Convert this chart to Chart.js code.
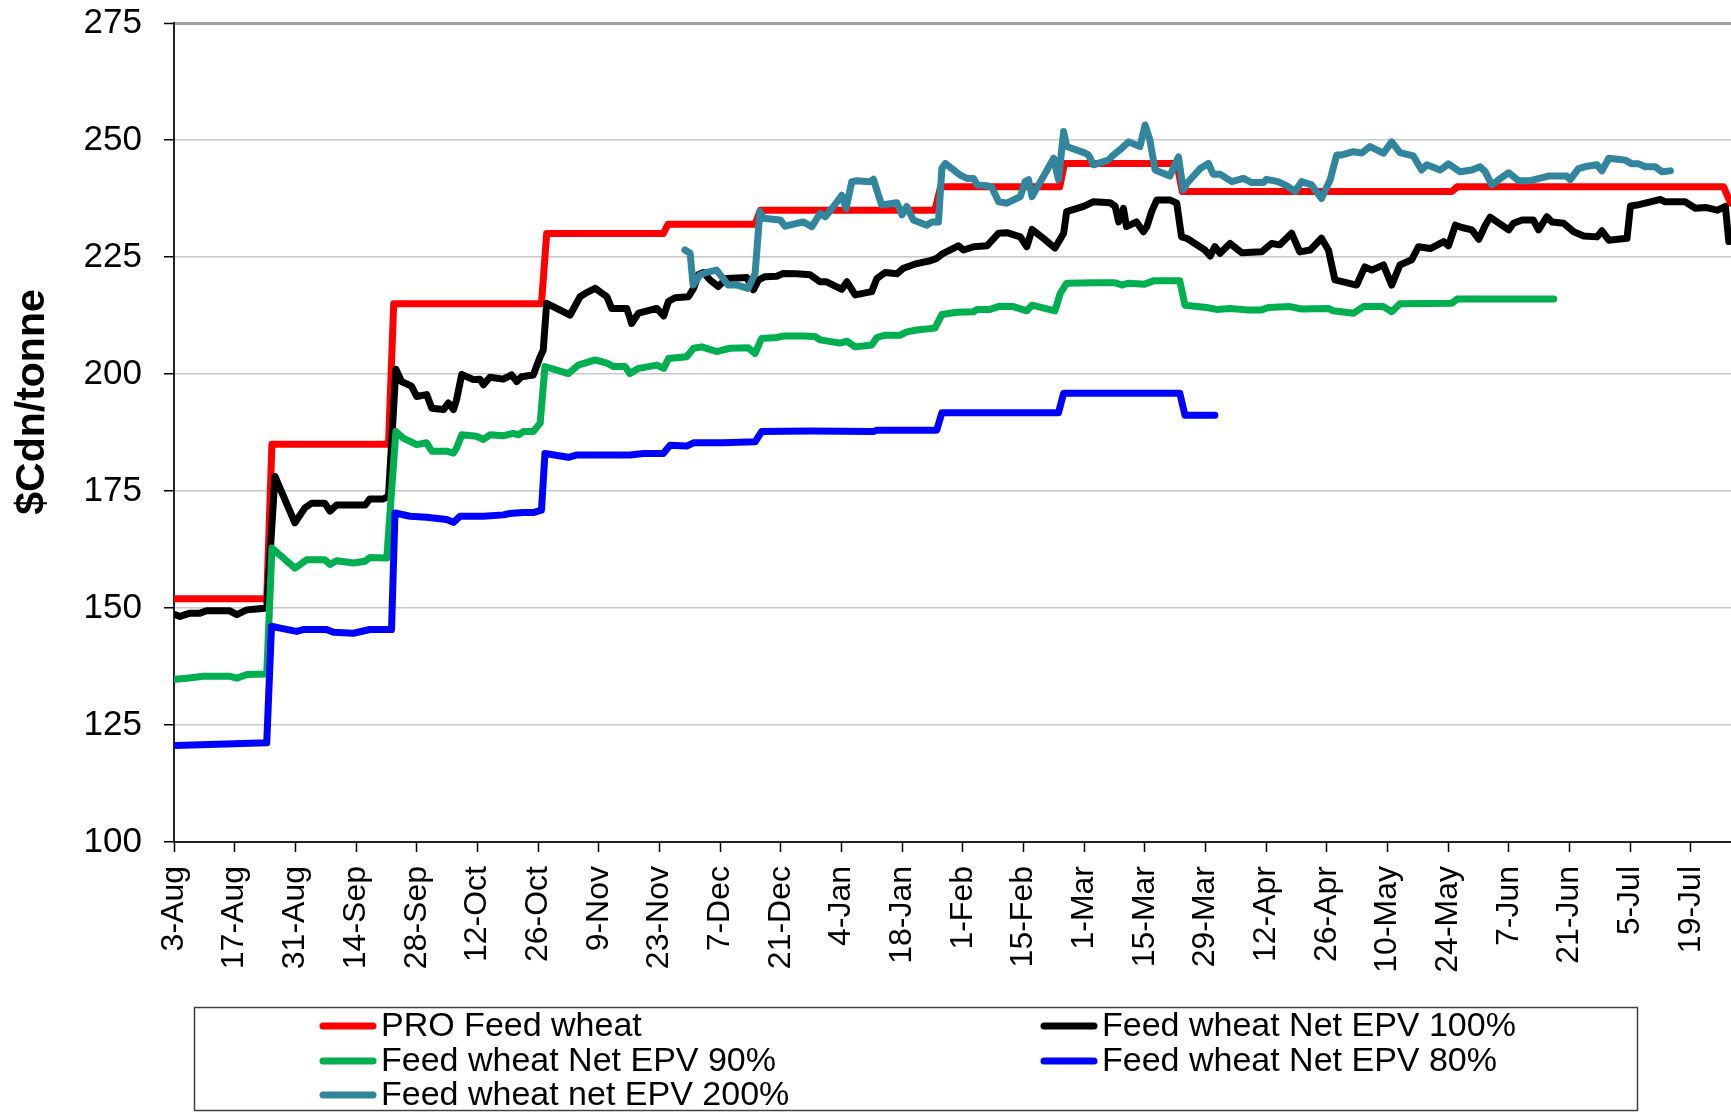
<!DOCTYPE html>
<html>
<head>
<meta charset="utf-8">
<script src="https://cdn.jsdelivr.net/npm/chart.js@4.4.0/dist/chart.umd.min.js"></script>
<style>
    html, body { margin: 0; padding: 0; background: #fff; }
    #chart { display: block; }
</style>
</head>
<body>
<canvas id="chart" width="1731" height="1112"></canvas>
<script>
// x = days since 3-Aug, y = $Cdn/tonne
const tickLabels = ['3-Aug', '17-Aug', '31-Aug', '14-Sep', '28-Sep', '12-Oct', '26-Oct', '9-Nov', '23-Nov', '7-Dec',
    '21-Dec', '4-Jan', '18-Jan', '1-Feb', '15-Feb', '1-Mar', '15-Mar', '29-Mar', '12-Apr', '26-Apr',
    '10-May', '24-May', '7-Jun', '21-Jun', '5-Jul', '19-Jul'];
const tickDays = tickLabels.map((_, i) => i * 14);

const seriesNames = ['PRO Feed wheat', 'Feed wheat Net EPV 100%', 'Feed wheat Net EPV 90%',
    'Feed wheat Net EPV 80%', 'Feed wheat net EPV 200%'];
const seriesColors = ['#ff0000', '#000000', '#00b050', '#0000ff', '#31859c'];

const proFeedWheat = [[0, 152], [21.4, 152], [22.6, 185], [49.5, 185], [50.7, 215], [84.8, 215], [86, 230], [112.9, 230],
    [114, 232], [134.1, 232], [135.3, 235], [175.6, 235], [176.9, 240], [204.4, 240], [205.5, 245], [231.4, 245],
    [232.7, 239], [294.9, 239], [296.1, 240], [357.6, 240], [359.2, 236.5]];

const netEpv100 = [[0.2, 148.6], [1.4, 148.2], [3.7, 148.9], [6, 148.9], [7.5, 149.4], [12.9, 149.4], [14.5, 148.6],
    [16.8, 149.6], [19.1, 149.8], [21.4, 150], [23.3, 178.1], [27.9, 168.2], [30.2, 171.4], [31.8, 172.4], [34.8, 172.4],
    [36, 170.7], [37.5, 172], [44.1, 172], [45.2, 173.3], [48.3, 173.3], [49.5, 173.9], [51.2, 201], [52.5, 198.4],
    [54.8, 197.4], [56, 195.2], [58.3, 195.6], [59.5, 192.7], [62.2, 192.4], [63.3, 193.8], [64.5, 192.4], [65.2, 194.5],
    [66.4, 199.9], [69.1, 198.8], [70.6, 198.9], [71.4, 197.7], [72.9, 199.3], [76, 198.9], [77.9, 199.8], [79.1, 198.4],
    [80.2, 199.4], [82.9, 199.8], [84.5, 203.7], [85.2, 205.1], [86, 215.1], [91.4, 212.6], [93.7, 216.5], [95.2, 217.4],
    [97.2, 218.3], [99.9, 216.5], [101, 214], [104.5, 214], [105.6, 210.8], [107.2, 213], [111.4, 214], [113, 212.4],
    [114.1, 215.5], [115.6, 216.3], [118.7, 216.5], [119.9, 218.3], [121, 221.2], [122.2, 221.7], [123.7, 220.1],
    [125.6, 218.7], [127.5, 220.4], [132.2, 220.6], [133.7, 218], [134.9, 220.1], [136.4, 220.8], [139.1, 220.9],
    [140.6, 221.5], [143.7, 221.4], [146.8, 221.2], [149.1, 219.7], [150.6, 219.7], [154.1, 218.1], [155.3, 219.7],
    [157.2, 216.9], [161, 217.6], [162.2, 220.4], [164.1, 221.7], [166.8, 221.4], [168.3, 222.6], [171.4, 223.6],
    [174.5, 224.2], [176, 224.7], [177.2, 225.6], [181, 227.4], [182.2, 226.5], [184.5, 227.2], [187.6, 227.4],
    [190.3, 230.1], [192.2, 230.2], [195.3, 229.3], [196.8, 227.2], [198, 230.9], [200.6, 229], [203.3, 226.9],
    [205.3, 230.1], [206, 234.7], [209.9, 235.8], [212.2, 236.8], [216, 236.6], [217.2, 235.8], [218, 232.5],
    [219.1, 235.4], [219.8, 231.5], [222.1, 232.5], [223.7, 230.4], [224.5, 231.5], [225.6, 234.7], [226.8, 237.2],
    [229.8, 237.2], [231.4, 236.5], [232.5, 229.3], [233.7, 229], [237.9, 226.5], [239.1, 225.2], [240.2, 227.2],
    [241.4, 225.8], [243.7, 227.9], [246.4, 225.9], [251, 226.1], [253.3, 227.9], [255.2, 227.6], [257.9, 230.1],
    [259.8, 226.1], [262.2, 226.5], [264.8, 229], [266.4, 226.5], [267.9, 220.1], [269.8, 219.7], [272.9, 219],
    [274.8, 222.9], [276.4, 222.2], [279.1, 223.3], [281, 219], [282.9, 223.3], [285.6, 224.4], [287.2, 227.2],
    [289.9, 226.8], [293, 228.3], [294.1, 227.4], [295.7, 231.8], [297.2, 231.3], [299.5, 230.8], [301.1, 228.8],
    [302.6, 231.8], [303.7, 233.5], [308, 230.8], [309.1, 232.2], [311.1, 232.9], [313.7, 232.9], [314.9, 230.8],
    [316.8, 233.6], [318, 232.5], [320.7, 232.2], [323, 230.4], [325.3, 229.5], [328.4, 229.3], [329.5, 230.6],
    [331.1, 228.6], [335.3, 229], [336.1, 235.9], [337.6, 236.1], [340.7, 236.8], [343, 237.3], [344.1, 236.8],
    [348.7, 236.8], [351.1, 235.4], [353.4, 235.6], [356.1, 235], [358, 235.8], [358.8, 228.3]];

const netEpv90 = [[0.2, 134.8], [3, 135], [6.8, 135.4], [12.9, 135.4], [14.5, 135], [16.8, 135.8], [21.4, 135.9],
    [22.6, 162.8], [27.9, 158.5], [30.6, 160.3], [34.8, 160.3], [36, 159.3], [37.5, 160.1], [41.4, 159.6], [44.1, 160],
    [45.2, 160.8], [49.1, 160.7], [51.2, 187.7], [52.9, 186.3], [56, 184.9], [58.3, 185.3], [59.5, 183.5], [62.9, 183.5],
    [64.5, 183.1], [65.2, 184.2], [66.4, 187], [69.8, 186.7], [71.4, 186], [72.9, 187], [76, 186.8], [78.3, 187.3],
    [79.5, 187], [80.6, 187.7], [82.9, 187.7], [84.5, 189.5], [85.6, 201.6], [91, 200.1], [93.3, 201.9], [97.2, 203],
    [99.9, 202.3], [101.4, 201.6], [104.1, 201.6], [105.2, 200.1], [107.2, 201.2], [111.4, 201.9], [113, 201.2],
    [114.1, 203.3], [118.3, 203.7], [119.9, 205.5], [121.8, 205.8], [125.2, 204.8], [128.3, 205.5], [132.5, 205.6],
    [134.1, 204.4], [135.6, 207.6], [139.1, 207.8], [140.6, 208.1], [145.2, 208.1], [147.9, 208], [149.1, 207.3],
    [153.7, 206.6], [155.3, 207], [157.2, 205.8], [161, 206.2], [162.2, 207.8], [164.1, 208.3], [167.6, 208.3],
    [169.1, 209], [171.4, 209.4], [175.6, 209.8], [177.2, 212.7], [180.6, 213.2], [184.5, 213.3], [185.3, 213.8],
    [188.3, 213.8], [190.6, 214.5], [193.7, 214.4], [196.8, 213.5], [198, 214.7], [203.3, 213.5], [204.5, 217.2],
    [206, 219.4], [212.2, 219.5], [217.2, 219.5], [218.7, 219], [220.3, 219.4], [224, 219.2], [226, 219.9],
    [232.1, 219.9], [233.3, 214.7], [238.3, 214.2], [240.6, 213.8], [243.7, 214], [247.5, 213.7], [251, 213.7],
    [252.5, 214.2], [257.5, 214.4], [260.2, 213.9], [266.4, 214], [267.5, 213.5], [272.2, 213], [274.5, 214.4],
    [279.1, 214.4], [281, 213.3], [282.9, 215], [294.9, 215.1], [296.1, 216], [318.4, 216]];

const netEpv80 = [[0.2, 120.6], [10, 120.9], [21.4, 121.2], [22.5, 146.1], [24.5, 145.7], [28.3, 145], [29.8, 145.4],
    [35.2, 145.4], [36.8, 144.8], [41.4, 144.6], [45.2, 145.4], [50.2, 145.4], [51, 170.3], [54.5, 169.6], [58.3, 169.4],
    [62.9, 168.9], [64.5, 168.3], [66, 169.6], [71.4, 169.6], [76, 169.9], [77.5, 170.2], [80.6, 170.4], [82.9, 170.4],
    [84.8, 170.9], [85.6, 183], [91, 182.2], [93, 182.7], [105.2, 182.7], [108.3, 183], [112.9, 183], [114.5, 184.8],
    [118.3, 184.6], [119.9, 185.3], [126.8, 185.3], [134.1, 185.5], [135.6, 187.7], [146.8, 187.8], [161.4, 187.7],
    [162.2, 188], [176, 188], [177.2, 191.7], [204.1, 191.7], [205.3, 195.9], [232.1, 195.9], [233.3, 191.2],
    [240.2, 191.2]];

const netEpv200 = [[117.9, 226.5], [119.1, 225.8], [119.8, 219], [121.4, 221.2], [122.9, 221.7], [125.2, 222.2],
    [127.9, 219], [129.9, 219], [132.5, 218.3], [134.1, 221.5], [135.2, 234.7], [136, 233.3], [139.9, 232.9],
    [141, 231.6], [145.2, 232.5], [147.2, 231.5], [149.1, 234.3], [150.3, 233.6], [152.2, 235.8], [154.1, 238.2],
    [155.1, 235.4], [156.4, 241.1], [157.6, 241.3], [160.6, 241.1], [161.4, 241.6], [163.3, 236.1], [166.8, 236.6],
    [168, 234], [169.1, 235.8], [170.6, 232.9], [173.7, 231.8], [174.9, 232.5], [176.4, 232.5], [177.2, 243.9],
    [178, 245], [181.4, 242.5], [183, 241.8], [184.5, 241.8], [185.3, 240.4], [188, 240.2], [188.7, 239.9],
    [190.3, 236.8], [192.2, 236.5], [195.3, 237.9], [196.4, 241.1], [197.2, 241.5], [198, 237.9], [203, 246.1],
    [204.1, 241.5], [205.3, 251.8], [206, 248.6], [210.3, 247.2], [211, 246.8], [212.2, 244.7], [215.6, 245.7],
    [216.8, 246.8], [218.3, 247.9], [220.3, 249.6], [222.9, 248.6], [224.1, 253.2], [225.2, 250], [226.4, 243.6],
    [229.8, 242.3], [231.8, 246.4], [232.9, 239.3], [233.7, 240.7], [236.8, 243.9], [238.7, 245], [239.8, 242.7],
    [241.4, 242.7], [244.1, 241.1], [246.8, 241.8], [248.7, 240.9], [251.4, 240.9], [252.1, 241.6], [254.8, 241.1],
    [256.8, 240.2], [258.7, 239], [260.2, 241.1], [262.5, 240.4], [264.8, 237.5], [266.8, 241.5], [268.3, 246.8],
    [269.5, 246.8], [272.2, 247.5], [274.1, 247.2], [276, 248.6], [279.1, 247.2], [281, 249.6], [282.9, 247.3],
    [286, 246.6], [287.9, 243.6], [289.1, 244.7], [292.2, 243.6], [294.1, 244.9], [296.8, 243.2], [299.5, 243.6],
    [301.4, 244.3], [302.6, 243.2], [304.1, 240.4], [306.1, 241.8], [308, 243], [310.3, 241.3], [313, 241.3],
    [317.2, 242.3], [321.4, 242.3], [322.2, 241.5], [324.1, 243.9], [326.1, 244.4], [328.4, 244.7], [329.5, 243.4],
    [331.1, 246.1], [333, 245.9], [334.9, 245.7], [336.4, 244.9], [338, 244.9], [339.5, 244.3], [341.8, 244.3],
    [343.4, 243.2], [345.3, 243.4]];

const seriesData = [proFeedWheat, netEpv100, netEpv90, netEpv80, netEpv200];

const FONT = '"Liberation Sans", Arial, sans-serif';

function toPoints(pairs) {
    return pairs.map(([x, y]) => ({x, y}));
}

// y axis title sits a bit above the middle of the plot, so it is drawn by hand
const yTitlePlugin = {
    id: 'yTitle',
    afterDraw(chart) {
        const ctx = chart.ctx;
        ctx.save();
        ctx.translate(33, 402);
        ctx.rotate(-Math.PI / 2);
        ctx.font = `bold 41px ${FONT}`;
        ctx.fillStyle = '#000';
        ctx.textAlign = 'center';
        ctx.textBaseline = 'middle';
        ctx.fillText('$Cdn/tonne', 0, 0);
        ctx.restore();
    }
};

// boxed legend in two columns
const boxLegendPlugin = {
    id: 'boxLegend',
    afterDraw(chart) {
        const ctx = chart.ctx;
        const slots = [[320, 1026], [1041, 1026], [320, 1061], [1041, 1061], [320, 1095]];
        ctx.save();
        ctx.strokeStyle = '#404040';
        ctx.lineWidth = 1.5;
        ctx.strokeRect(194.5, 1007.5, 1443, 103);
        ctx.font = `34px ${FONT}`;
        ctx.textBaseline = 'middle';
        ctx.textAlign = 'left';
        chart.data.datasets.forEach((ds, i) => {
            const [x, y] = slots[i];
            ctx.strokeStyle = ds.borderColor;
            ctx.lineWidth = 7;
            ctx.lineCap = 'round';
            ctx.beginPath();
            ctx.moveTo(x + 3, y);
            ctx.lineTo(x + 53, y);
            ctx.stroke();
            ctx.fillStyle = '#000';
            ctx.fillText(ds.label, x + 61, y + 1);
        });
        ctx.restore();
    }
};

const datasets = seriesData.map((pairs, i) => ({
    label: seriesNames[i],
    data: toPoints(pairs),
    borderColor: seriesColors[i],
    backgroundColor: seriesColors[i],
    borderWidth: 7,
    borderJoinStyle: 'round',
    borderCapStyle: 'round',
    pointRadius: 0,
    tension: 0,
    fill: false,
    order: seriesData.length - i
}));

new Chart(document.getElementById('chart'), {
    type: 'line',
    data: {datasets},
    options: {
        responsive: false,
        animation: false,
        layout: {padding: {top: 23, right: 0, bottom: 0, left: 0}},
        plugins: {
            legend: {display: false},
            tooltip: {enabled: false}
        },
        scales: {
            x: {
                type: 'linear',
                min: 0,
                max: 359.3,
                afterBuildTicks: scale => {
                    scale.ticks = tickDays.map(v => ({value: v}));
                },
                afterFit: scale => {
                    scale.height = 270;
                    scale.paddingLeft = 0;
                    scale.paddingRight = 0;
                },
                ticks: {
                    autoSkip: false,
                    maxRotation: 90,
                    minRotation: 90,
                    padding: 14,
                    color: '#000',
                    font: {family: FONT, size: 32},
                    callback: value => tickLabels[tickDays.indexOf(value)]
                },
                grid: {
                    drawOnChartArea: false,
                    drawTicks: true,
                    tickLength: 10,
                    tickColor: '#000',
                    tickWidth: 1.5
                },
                border: {color: '#222', width: 2}
            },
            y: {
                min: 100,
                max: 275,
                afterFit: scale => {
                    scale.width = 174;
                    scale.paddingTop = 0;
                    scale.paddingBottom = 0;
                },
                ticks: {
                    stepSize: 25,
                    padding: 22,
                    color: '#000',
                    font: {family: FONT, size: 35}
                },
                grid: {
                    color: ctx => ctx.tick && ctx.tick.value === 275 ? '#a0a0a0' : '#c8c8c8',
                    lineWidth: ctx => ctx.tick && ctx.tick.value === 275 ? 3 : 1.5,
                    tickColor: '#000',
                    tickLength: 10,
                    tickWidth: 1.5
                },
                border: {color: '#222', width: 2}
            }
        }
    },
    plugins: [yTitlePlugin, boxLegendPlugin]
});
</script>
</body>
</html>
